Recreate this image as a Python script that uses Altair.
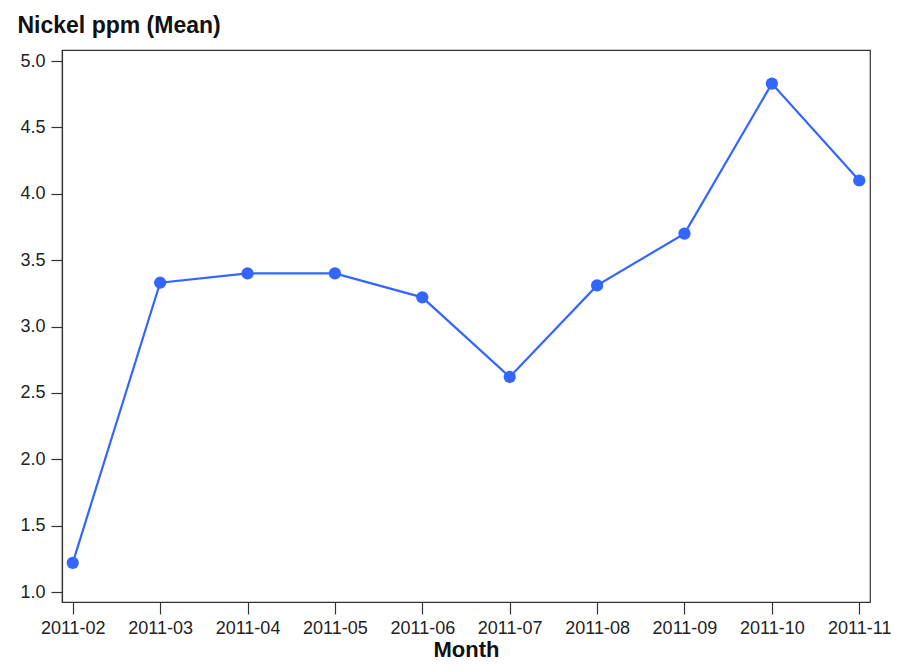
import altair as alt
import pandas as pd

months = ["2011-02", "2011-03", "2011-04", "2011-05", "2011-06",
          "2011-07", "2011-08", "2011-09", "2011-10", "2011-11"]
nickel_mean = [1.22, 3.33, 3.40, 3.40, 3.22, 2.62, 3.31, 3.70, 4.83, 4.10]
y_ticks = [1.0, 1.5, 2.0, 2.5, 3.0, 3.5, 4.0, 4.5, 5.0]

df = pd.DataFrame({"Month": months, "Nickel": nickel_mean})

FONT = "Liberation Sans"
COLOR = "#3366ff"

x = alt.X("Month:O", sort=months,
          scale=alt.Scale(type="point", padding=0.123),
          axis=alt.Axis(title="Month", labelAngle=0, tickSize=12, labelPadding=5,
                        titlePadding=2, titleFontSize=22, labelFontSize=18))
y = alt.Y("Nickel:Q",
          scale=alt.Scale(domain=[0.925, 5.083], nice=False, zero=False),
          axis=alt.Axis(title="Nickel ppm (Mean)", values=y_ticks, format=".1f",
                        tickSize=11, labelPadding=6, labelFontSize=18,
                        titleAngle=0, titleAlign="left", titleBaseline="alphabetic",
                        titleX=-45, titleY=-18, titleFontSize=23))

line = alt.Chart(df).mark_line(color=COLOR, strokeWidth=2.2).encode(x=x, y=y)
pts = alt.Chart(df).mark_circle(color=COLOR, size=150, opacity=1).encode(x=x, y=y)

chart = (line + pts).properties(
    width=808, height=552,
    autosize=alt.AutoSizeParams(type="none"),
    padding={"left": 54, "top": 42, "right": 24, "bottom": 62},
).configure_view(stroke="#333333", strokeWidth=1.2).configure_axis(
    labelFont=FONT, titleFont=FONT, labelColor="#222222", titleColor="#111111",
    domainColor="#333333", tickColor="#333333", grid=False, titleFontWeight="bold",
    domainWidth=1.2, tickWidth=1.2,
)

chart.save("out.html", embed_options={"renderer": "svg", "actions": False})
